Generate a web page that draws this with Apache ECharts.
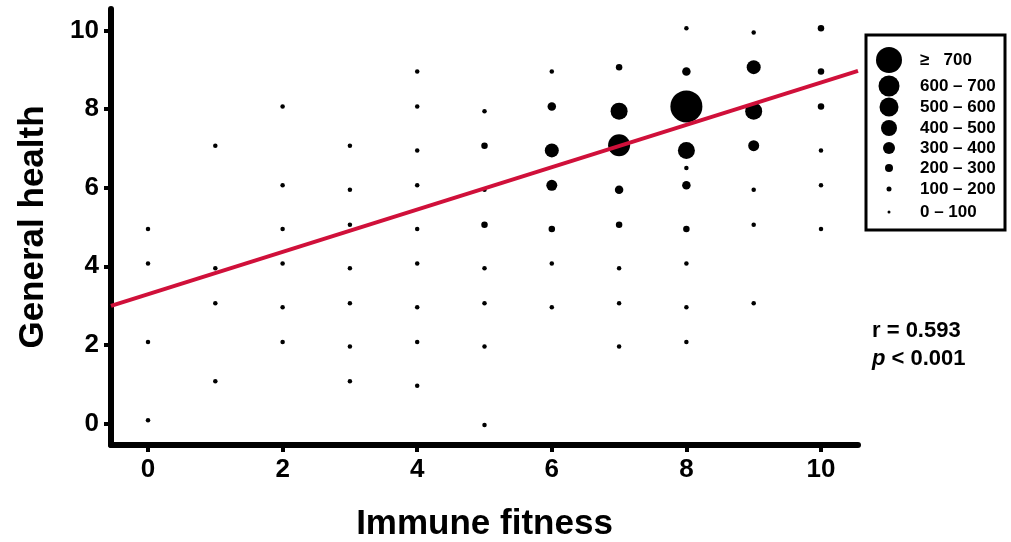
<!DOCTYPE html>
<html>
<head>
<meta charset="utf-8">
<script src="https://cdn.jsdelivr.net/npm/echarts@6/dist/echarts.min.js"></script>
<style>
  html, body { margin: 0; padding: 0; background: #ffffff; }
  #chart { width: 1011px; height: 542px; }
</style>
</head>
<body>
<div id="chart"></div>
<script>
// ---- data ----
const immuneFitness = [
  0,0,0,0,
  1,1,1,1,
  2,2,2,2,2,2,
  3,3,3,3,3,3,3,
  4,4,4,4,4,4,4,4,4,
  5,5,5,5,5,5,5,5,
  6,6,6,6,6,6,6,
  7,7,7,7,7,7,7,7,
  8,8,8,8,8,8,8,8,8,8,
  9,9,9,9,9,9,9,
  10,10,10,10,10,10
];
const generalHealth = [
  4.95,4.07,2.07,0.08,
  7.07,3.95,3.06,1.07,
  8.07,6.06,4.95,4.07,2.96,2.07,
  7.07,5.95,5.06,3.95,3.06,1.96,1.07,
  8.96,8.07,6.95,6.06,4.95,4.07,2.96,2.07,0.96,
  7.95,7.07,5.95,5.06,3.95,3.06,1.96,-0.04,
  8.96,8.07,6.95,6.06,4.95,4.07,2.96,
  9.07,7.95,7.08,5.95,5.06,3.95,3.06,1.96,
  10.06,8.96,8.07,6.95,6.50,6.06,4.95,4.07,2.96,2.07,
  9.95,9.07,7.95,7.07,5.95,5.06,3.06,
  10.06,8.96,8.07,6.95,6.06,4.95
];
const respondents = [
  30,30,30,30,
  30,30,30,30,
  40,40,40,40,40,40,
  50,50,50,40,40,30,30,
  50,60,60,60,50,50,50,40,30,
  80,180,80,120,60,60,40,30,
  50,250,450,350,150,60,40,
  120,550,650,250,150,60,60,40,
  80,250,800,550,30,250,150,60,60,40,
  80,450,550,350,80,80,40,
  150,150,120,80,60,60
];
const binLabels = ['\u2265   700','600 \u2013 700','500 \u2013 600','400 \u2013 500','300 \u2013 400','200 \u2013 300','100 \u2013 200','0 \u2013 100'];
const binLower = [700,600,500,400,300,200,100,0];
const xTicks = [0,2,4,6,8,10];
const yTicks = [0,2,4,6,8,10];
const regIntercept = 3.29;
const regSlope = 0.539;
const rValue = '0.593';
const pText = '< 0.001';

// ---- styles ----
const plotSizes   = [32,22,17,14,11,8.5,6.5,4.5];
const legendSizes = [26,21,19,16,12,8,5,3];
const FONT = "'Liberation Sans', Arial, sans-serif";
const AX_MIN = -0.55, AX_MAX = 10.55;

function binIndex(n) {
  for (let i = 0; i < binLower.length; i++) if (n >= binLower[i]) return i;
  return binLower.length - 1;
}

const points = immuneFitness.map((x, i) => [x, generalHealth[i], respondents[i]]);
const regLine = [AX_MIN, AX_MAX].map(x => [x, regIntercept + regSlope * x]);

const chart = echarts.init(document.getElementById('chart'), null, { renderer: 'canvas' });

// legend drawn as graphic
const legendTop = 35, legendLeft = 866, legendW = 139, legendH = 195;
const rowY = [60, 86, 107, 128, 148, 168, 189, 212];
const graphics = [{
  type: 'rect',
  shape: { x: legendLeft, y: legendTop, width: legendW, height: legendH },
  style: { fill: '#fff', stroke: '#000', lineWidth: 3 },
  z: 10
}];
binLabels.forEach((lab, i) => {
  graphics.push({
    type: 'circle',
    shape: { cx: 889, cy: rowY[i], r: legendSizes[i] / 2 },
    style: { fill: '#000' }, z: 11
  });
  graphics.push({
    type: 'text',
    x: 920, y: rowY[i],
    style: { text: lab, fill: '#000', font: 'bold 17px ' + FONT, textVerticalAlign: 'middle' },
    z: 11
  });
});
graphics.push({
  type: 'text', x: 872, y: 331,
  style: { text: 'r = ' + rValue, fill: '#000', font: 'bold 22px ' + FONT, textVerticalAlign: 'middle' }
});
graphics.push({
  type: 'text', x: 872, y: 359,
  style: {
    text: '{i|p} ' + pText, fill: '#000', font: 'bold 22px ' + FONT, textVerticalAlign: 'middle',
    rich: { i: { fontStyle: 'italic', fontWeight: 'bold', fontSize: 22, fontFamily: FONT, fill: '#000' } }
  }
});

chart.setOption({
  backgroundColor: '#ffffff',
  animation: false,
  grid: { left: 111, right: 153, top: 9, bottom: 97, containLabel: false, outerBoundsMode: 'none' },
  xAxis: {
    type: 'value', min: AX_MIN, max: AX_MAX,
    name: 'Immune fitness', nameLocation: 'middle', nameGap: 62,
    nameTextStyle: { fontSize: 35, fontWeight: 'bold', color: '#000', fontFamily: FONT },
    axisLine: { show: true, onZero: false, lineStyle: { color: '#000', width: 6 } },
    axisTick: { show: true, customValues: xTicks, length: 7, lineStyle: { color: '#000', width: 4 } },
    axisLabel: { customValues: xTicks, margin: 12, fontSize: 26, fontWeight: 'bold', color: '#000', fontFamily: FONT },
    splitLine: { show: false }
  },
  yAxis: {
    type: 'value', min: AX_MIN, max: AX_MAX,
    name: 'General health', nameLocation: 'middle', nameGap: 60, nameRotate: 90,
    nameTextStyle: { fontSize: 35, fontWeight: 'bold', color: '#000', fontFamily: FONT },
    axisLine: { show: true, onZero: false, lineStyle: { color: '#000', width: 6 } },
    axisTick: { show: true, customValues: yTicks, length: 7, lineStyle: { color: '#000', width: 4 } },
    axisLabel: { customValues: yTicks, margin: 12, fontSize: 26, fontWeight: 'bold', color: '#000', fontFamily: FONT },
    splitLine: { show: false }
  },
  series: [
    {
      type: 'scatter',
      data: points,
      symbol: 'circle',
      symbolSize: v => plotSizes[binIndex(v[2])],
      itemStyle: { color: '#000', opacity: 1 },
      z: 2
    },
    {
      type: 'line',
      data: regLine,
      showSymbol: false,
      symbol: 'none',
      lineStyle: { color: '#d0103a', width: 4 },
      z: 3
    }
  ],
  graphic: graphics
});
</script>
</body>
</html>
